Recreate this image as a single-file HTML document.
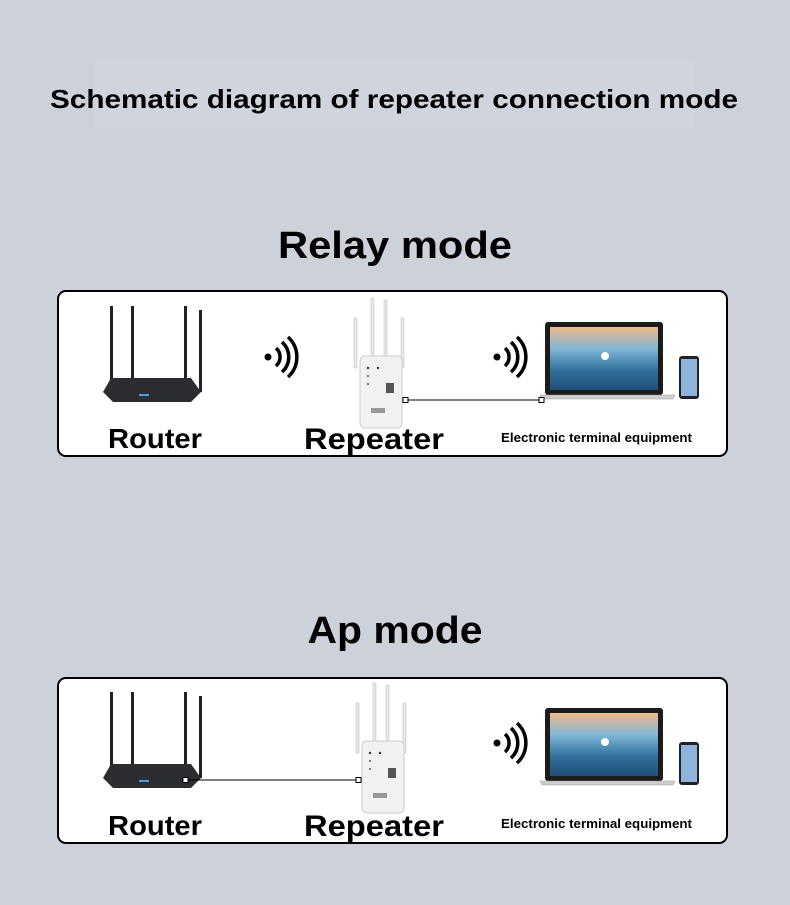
<!DOCTYPE html>
<html><head><style>
html,body{margin:0;padding:0;background:#cdd2da;}
svg{display:block}
text{font-family:"Liberation Sans",sans-serif;font-weight:bold;fill:#000}
</style></head><body>
<svg width="790" height="905" viewBox="0 0 790 905" xmlns="http://www.w3.org/2000/svg">
<defs>
<linearGradient id="sea" x1="0" y1="0" x2="0" y2="1">
<stop offset="0" stop-color="#f1b98a"/><stop offset="0.35" stop-color="#7fb6d6"/><stop offset="0.7" stop-color="#2f6f9a"/><stop offset="1" stop-color="#1f4f78"/></linearGradient>
<g id="router">
<rect x="7" y="0" width="3" height="80" fill="#222"/>
<rect x="28" y="0" width="3" height="74" fill="#222"/>
<rect x="81" y="0" width="3" height="74" fill="#222"/>
<rect x="96" y="4" width="3" height="82" fill="#222"/>
<path d="M8 72 L88 72 L98 86 L88 96 L10 96 L0 86 Z" fill="#2b2d31"/>
<rect x="36" y="88" width="10" height="2" fill="#4aa0ff"/>
</g>
<g id="rep">
<rect x="-9" y="20" width="3" height="50" fill="#e8e8e8" stroke="#bbb" stroke-width="0.5"/>
<rect x="8" y="0" width="3" height="60" fill="#e8e8e8" stroke="#bbb" stroke-width="0.5"/>
<rect x="21" y="2" width="3" height="60" fill="#e8e8e8" stroke="#bbb" stroke-width="0.5"/>
<rect x="38" y="20" width="3" height="50" fill="#e8e8e8" stroke="#bbb" stroke-width="0.5"/>
<rect x="-3" y="58" width="42" height="72" rx="5" fill="#f2f2f2" stroke="#ccc"/>
<circle cx="5" cy="70" r="1.2" fill="#333"/><circle cx="15" cy="70" r="1.2" fill="#333"/>
<circle cx="5" cy="78" r="1" fill="#555"/><circle cx="5" cy="86" r="1" fill="#555"/>
<rect x="23" y="85" width="8" height="10" fill="#555"/>
<rect x="8" y="110" width="14" height="5" fill="#999"/>
</g>
<g id="lap">
<rect x="0" y="0" width="118" height="73" rx="3" fill="#1b1b1b"/>
<rect x="5" y="5" width="108" height="63" fill="url(#sea)"/>
<circle cx="60" cy="34" r="4" fill="#fff"/>
<path d="M-5 73 L130 73 L128 77 L-3 77 Z" fill="#cfcfcf" stroke="#999" stroke-width="0.5"/>
<rect x="134" y="34" width="20" height="43" rx="3" fill="#222"/>
<rect x="136" y="37" width="16" height="37" fill="#8fb4dc"/>
</g>
<g id="wifi" fill="none" stroke="#000" stroke-width="3.5">
<circle cx="0" cy="0" r="3.5" fill="#000" stroke="none"/>
<path d="M8 -9 A12 12 0 0 1 8 9"/>
<path d="M14 -15 A20 20 0 0 1 14 15"/>
<path d="M20 -20 A27 27 0 0 1 20 20"/>
</g>
</defs>

<rect x="95" y="60" width="600" height="68" fill="#d2d6dd" opacity="0.6"/>
<text x="394" y="108" text-anchor="middle" font-size="26" textLength="688" lengthAdjust="spacingAndGlyphs">Schematic diagram of repeater connection mode</text>

<text x="395" y="258" text-anchor="middle" font-size="38" textLength="234" lengthAdjust="spacingAndGlyphs">Relay mode</text>
<rect x="58" y="291" width="669" height="165" rx="8" fill="#fff" stroke="#000" stroke-width="2"/>
<use href="#router" x="103" y="306"/>
<use href="#wifi" x="268" y="357"/>
<use href="#rep" x="363" y="298"/>
<use href="#wifi" x="497" y="357"/>
<use href="#lap" x="545" y="322"/>
<line x1="406" y1="400" x2="541" y2="400" stroke="#000" stroke-width="1"/>
<rect x="403" y="397.5" width="5" height="5" fill="#fff" stroke="#000"/>
<rect x="539" y="397.5" width="5" height="5" fill="#fff" stroke="#000"/>
<text x="108" y="448" font-size="28" textLength="94" lengthAdjust="spacingAndGlyphs">Router</text>
<text x="304" y="449" font-size="30" textLength="140" lengthAdjust="spacingAndGlyphs">Repeater</text>
<text x="501" y="442" font-size="13" textLength="191" lengthAdjust="spacingAndGlyphs">Electronic terminal equipment</text>

<text x="395" y="643" text-anchor="middle" font-size="38" textLength="175" lengthAdjust="spacingAndGlyphs">Ap mode</text>
<rect x="58" y="678" width="669" height="165" rx="8" fill="#fff" stroke="#000" stroke-width="2"/>
<use href="#router" x="103" y="692"/>
<use href="#rep" x="365" y="683"/>
<use href="#wifi" x="497" y="743"/>
<use href="#lap" x="545" y="708"/>
<line x1="186" y1="780" x2="358" y2="780" stroke="#000" stroke-width="1"/>
<rect x="183" y="777.5" width="5" height="5" fill="#fff" stroke="#000"/>
<rect x="356" y="777.5" width="5" height="5" fill="#fff" stroke="#000"/>
<text x="108" y="835" font-size="28" textLength="94" lengthAdjust="spacingAndGlyphs">Router</text>
<text x="304" y="836" font-size="30" textLength="140" lengthAdjust="spacingAndGlyphs">Repeater</text>
<text x="501" y="828" font-size="13" textLength="191" lengthAdjust="spacingAndGlyphs">Electronic terminal equipment</text>
</svg>
</body></html>
